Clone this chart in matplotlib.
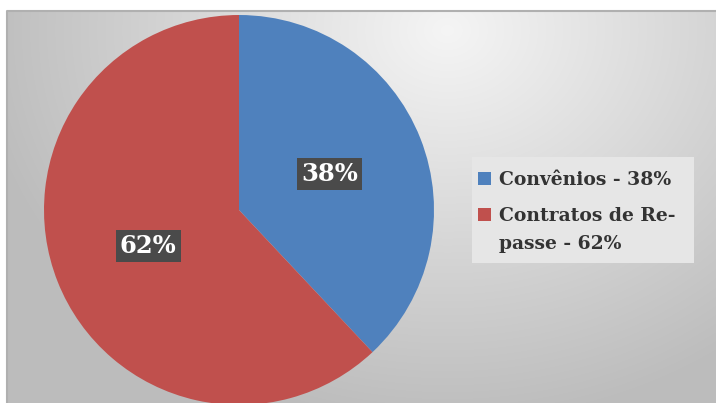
import numpy as np
import matplotlib
matplotlib.use("Agg")
import matplotlib.pyplot as plt
from matplotlib.patches import Rectangle

categories = ["Convênios - 38%", "Contratos de Re-\npasse - 62%"]
values = [38, 62]
colors = ["#4F81BD", "#C0504D"]

W, H = 716, 403
fig = plt.figure(figsize=(W / 100, H / 100), dpi=100)
fig.patch.set_facecolor("white")

# background chart area with radial gradient
bg = fig.add_axes([7 / W, 0, (W - 7) / W, (H - 10) / H])
bg.set_axis_off()
yy, xx = np.mgrid[0:393, 0:709]
d = np.hypot(xx - 440, (yy - 20) * 1.2)
v = np.clip(0.96 - d / 470 * 0.22, 0.74, 0.96)
bg.imshow(np.dstack([v, v, v]), aspect="auto", extent=[0, 709, 393, 0])
bg.plot([0, 0, 709], [393, 0.5, 0.5], color="#b0b0b0", lw=1.5, clip_on=False)
bg.set_xlim(0, 709)
bg.set_ylim(393, 0)

# pie
ax = fig.add_axes([44 / W, (H - 405) / H, 390 / W, 390 / H])
wedges, texts, autotexts = ax.pie(values, colors=colors, startangle=90, counterclock=False,
                                  autopct="%1.0f%%", pctdistance=0.5, radius=1,
                                  wedgeprops=dict(linewidth=0))
ax.set_xlim(-1, 1)
ax.set_ylim(-1, 1)
ax.set_aspect("auto")
ax.set_axis_off()
for wdg in wedges:
    wdg.set_clip_on(False)
for t in autotexts:
    t.set_fontfamily("DejaVu Serif")
    t.set_fontweight("bold")
    t.set_fontsize(17.5)
    t.set_color("white")
    t.set_bbox(dict(facecolor="#4a4a4a", edgecolor="none", pad=3))

# legend (overlay in pixel coordinates)
lg = fig.add_axes([0, 0, 1, 1])
lg.set_xlim(0, W)
lg.set_ylim(H, 0)
lg.set_axis_off()
lg.patch.set_alpha(0)
lg.add_patch(Rectangle((472, 157), 222, 106, facecolor="#e6e6e6", edgecolor="none"))
baselines = [185, 221]
for lab, col, yb in zip(categories, colors, baselines):
    lg.add_patch(Rectangle((478, yb - 13), 13, 13, facecolor=col, edgecolor="none"))
    for i, line in enumerate(lab.split("\n")):
        lg.text(499, yb + i * 28, line, ha="left", va="baseline", color="#333333",
                fontfamily="DejaVu Serif", fontweight="bold", fontsize=13.5)

fig.savefig("out.png", dpi=100)
